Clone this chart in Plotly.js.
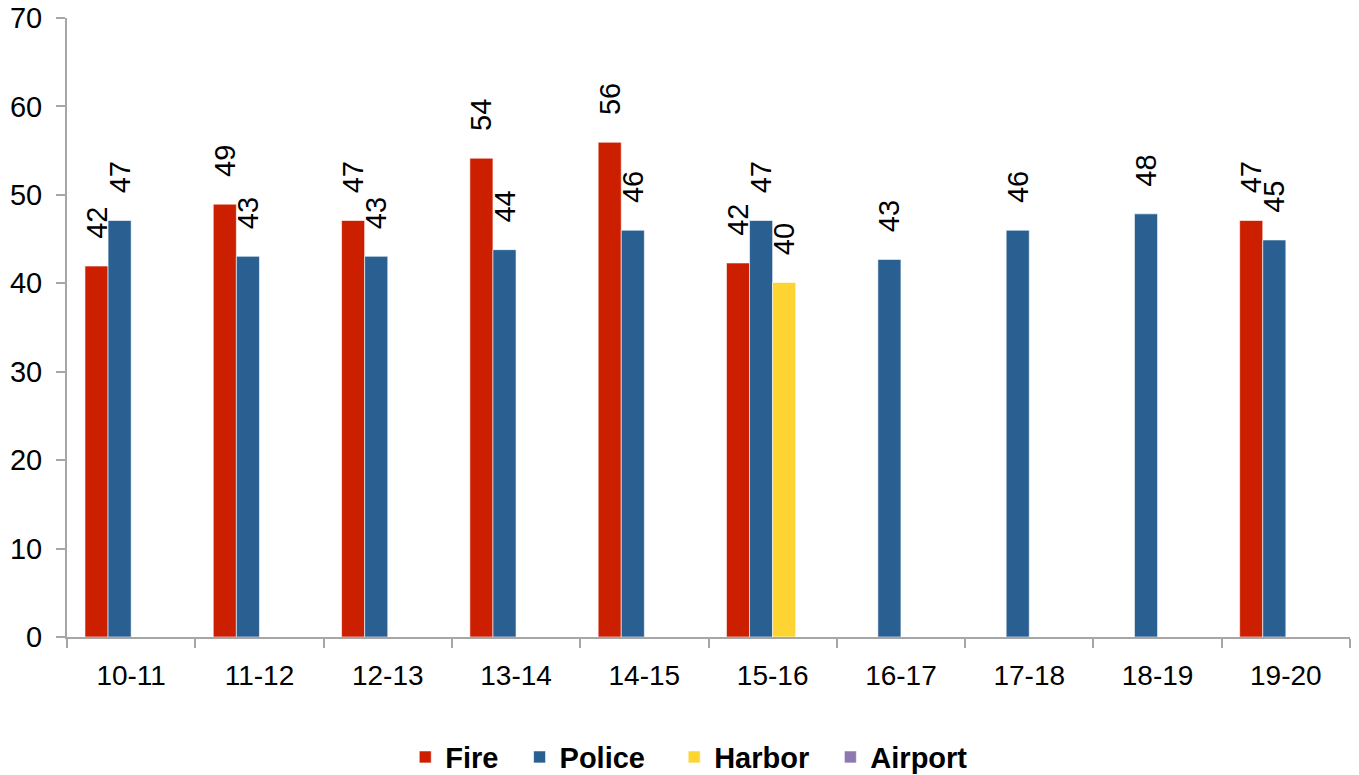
<!DOCTYPE html>
<html>
<head>
<meta charset="utf-8">
<script src="https://cdn.plot.ly/plotly-3.0.1.min.js"></script>
<style>html,body{margin:0;padding:0;background:#fff;}#chart{width:1359px;height:775px;}</style>
</head>
<body>
<div id="chart"></div>
<script>
const categories = ['10-11','11-12','12-13','13-14','14-15','15-16','16-17','17-18','18-19','19-20'];
const fire    = [41.95, 48.95, 47.1, 54.15, 55.95, 42.3, null, null, null, 47.1];
const police  = [47.1, 43.05, 43.05, 43.8, 46.0, 47.1, 42.7, 46.0, 47.85, 44.9];
const harbor  = [null, null, null, null, null, 40.1, null, null, null, null];
const airport = [null, null, null, null, null, null, null, null, null, null];
const yTicks  = [0, 10, 20, 30, 40, 50, 60, 70];

const FONT = 'Liberation Sans, Arial, sans-serif';
const labelFont = {family: FONT, size: 29, color: '#000'};
const NB = '\u00a0';
function mk(name, pad, vals, color) {
  return {
    type: 'bar', name: name + NB.repeat(pad), x: categories, y: vals,
    marker: {color: color, line: {color: 'rgba(255,255,255,0.6)', width: 1}},
    texttemplate: NB + NB + NB + '%{y:.0f}', textposition: 'outside', textangle: -90,
    textfont: labelFont, constraintext: 'none', cliponaxis: false,
    hoverinfo: 'x+y+name'
  };
}
const data = [
  mk('Fire', 2, fire, '#CC1F00'),
  mk('Police', 3, police, '#295F91'),
  mk('Harbor', 2, harbor, '#FDD431'),
  mk('Airport', 0, airport, '#8E78B0')
];
const layout = {
  width: 1359, height: 775,
  margin: {l: 67, r: 9, t: 18, b: 138, autoexpand: false},
  paper_bgcolor: '#fff', plot_bgcolor: '#fff',
  barmode: 'group', bargap: 0.28, bargroupgap: 0,
  showlegend: true,
  legend: {orientation: 'h', x: 0.485, xanchor: 'center', y: -0.194, yanchor: 'middle',
           font: {family: FONT, size: 29, color: '#000', weight: 'bold'},
           traceorder: 'normal'},
  xaxis: {type: 'category', showgrid: false, showline: true, linecolor: '#a6a6a6', linewidth: 2,
          ticks: 'outside', tickson: 'boundaries', ticklen: 9, tickwidth: 2, tickcolor: '#a6a6a6',
          ticklabelstandoff: 12, automargin: false,
          tickfont: {family: FONT, size: 28, color: '#000'}},
  yaxis: {range: [0, 70], tickvals: yTicks, showgrid: false, zeroline: false, showline: true,
          linecolor: '#a6a6a6', linewidth: 2, ticks: 'outside', ticklen: 9, tickwidth: 2, tickcolor: '#a6a6a6',
          ticklabelstandoff: 8, automargin: false,
          tickfont: {family: FONT, size: 29, color: '#000'}}
};
Plotly.newPlot('chart', data, layout, {displayModeBar: false, staticPlot: true});
</script>
</body>
</html>
